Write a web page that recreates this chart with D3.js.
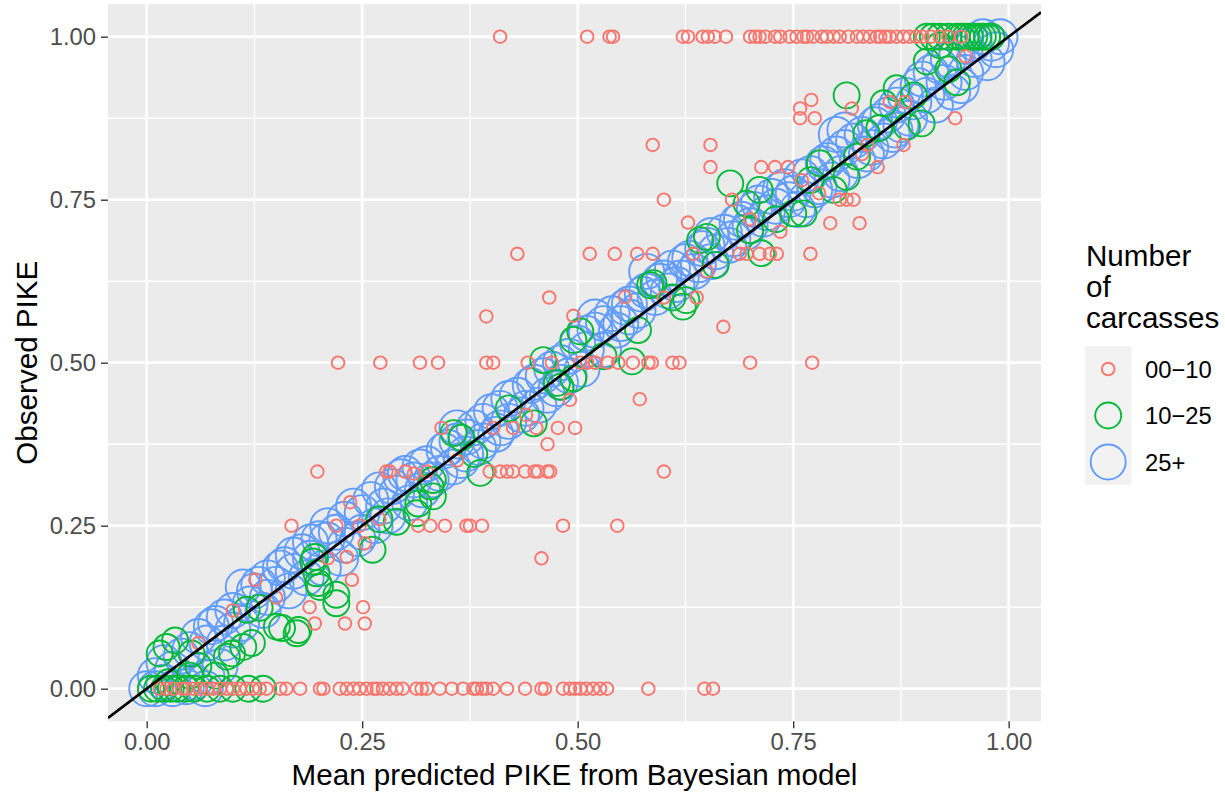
<!DOCTYPE html>
<html>
<head>
<meta charset="utf-8">
<script src="https://cdn.jsdelivr.net/npm/d3@7"></script>
<style>
  body { margin: 0; background: #fff; }
  svg text { font-family: "Liberation Sans", Arial, sans-serif; }
</style>
</head>
<body>
<div id="chart"></div>
<script>
// ---- data: [mean predicted, observed] per site-year, grouped by carcass count ----
var groupLabels = ["00\u221210", "10\u221225", "25+"];
var groupColors = ["#F8766D", "#00BA38", "#619CFF"];
var xTicks = [0, 0.25, 0.5, 0.75, 1];
var yTicks = [0, 0.25, 0.5, 0.75, 1];

var smallPts = [
  // observed = 1
  [0.41,1],[0.511,1],[0.537,1],[0.541,1],[0.622,1],[0.628,1],[0.645,1],[0.651,1],[0.659,1],[0.672,1],
  [0.700,1],[0.706,1],[0.711,1],[0.718,1],[0.729,1],[0.735,1],[0.746,1],[0.754,1],[0.762,1],[0.766,1],
  [0.773,1],[0.783,1],[0.789,1],[0.797,1],[0.804,1],[0.814,1],[0.824,1],[0.831,1],[0.839,1],[0.847,1],
  [0.851,1],[0.857,1],[0.862,1],[0.870,1],[0.878,1],[0.885,1],[0.893,1],[0.90,1],[0.91,1],[0.92,1],[0.93,1],[0.945,1],
  // observed = 0
  [0.015,0],[0.023,0],[0.031,0],[0.041,0],[0.046,0],[0.054,0],[0.062,0],[0.070,0],[0.077,0],[0.085,0],
  [0.093,0],[0.100,0],[0.108,0],[0.116,0],[0.123,0],[0.131,0],[0.139,0],[0.155,0],[0.162,0],[0.178,0],
  [0.201,0],[0.205,0],[0.224,0],[0.232,0],[0.240,0],[0.247,0],[0.255,0],[0.263,0],[0.267,0],[0.274,0],
  [0.282,0],[0.290,0],[0.297,0],[0.313,0],[0.319,0],[0.325,0],[0.340,0],[0.354,0],[0.367,0],[0.379,0],
  [0.383,0],[0.389,0],[0.394,0],[0.402,0],[0.418,0],[0.439,0],[0.458,0],[0.462,0],[0.483,0],[0.491,0],
  [0.497,0],[0.503,0],[0.510,0],[0.518,0],[0.526,0],[0.534,0],[0.582,0],[0.647,0],[0.657,0],
  // observed = 0.5
  [0.222,0.5],[0.271,0.5],[0.317,0.5],[0.338,0.5],[0.394,0.5],[0.402,0.5],[0.442,0.5],[0.470,0.5],[0.503,0.5],[0.511,0.5],
  [0.520,0.5],[0.535,0.5],[0.547,0.5],[0.564,0.5],[0.582,0.5],[0.586,0.5],[0.610,0.5],[0.618,0.5],[0.700,0.5],[0.772,0.5],
  // observed = 1/3
  [0.198,0.333],[0.278,0.333],[0.282,0.333],[0.300,0.333],[0.325,0.333],[0.398,0.333],[0.410,0.333],[0.418,0.333],
  [0.425,0.333],[0.439,0.333],[0.450,0.333],[0.454,0.333],[0.465,0.333],[0.468,0.333],[0.600,0.333],
  // observed = 0.25
  [0.168,0.25],[0.220,0.25],[0.247,0.25],[0.315,0.25],[0.329,0.25],[0.346,0.25],[0.371,0.25],[0.375,0.25],
  [0.389,0.25],[0.483,0.25],[0.546,0.25],
  // observed = 2/3
  [0.43,0.667],[0.514,0.667],[0.543,0.667],[0.569,0.667],[0.587,0.667],[0.634,0.667],[0.688,0.667],[0.696,0.667],
  [0.711,0.667],[0.723,0.667],[0.731,0.667],[0.770,0.667],
  // observed = 0.75, 0.8, 0.4
  [0.60,0.75],[0.679,0.75],[0.804,0.75],[0.812,0.75],[0.820,0.75],
  [0.654,0.8],[0.713,0.8],[0.729,0.8],[0.744,0.8],[0.848,0.8],
  [0.342,0.4],[0.402,0.4],[0.425,0.4],[0.452,0.4],[0.477,0.4],[0.497,0.4],
  // scattered
  [0.126,0.167],[0.238,0.167],[0.189,0.125],[0.251,0.125],[0.195,0.1],[0.23,0.1],[0.253,0.1],[0.236,0.286],
  [0.458,0.2],[0.465,0.375],[0.491,0.443],[0.572,0.444],[0.467,0.6],[0.394,0.571],[0.495,0.572],[0.669,0.555],
  [0.638,0.6],[0.555,0.601],[0.587,0.834],[0.654,0.834],[0.628,0.715],[0.735,0.701],[0.793,0.714],[0.827,0.714],
  [0.836,0.834],[0.76,0.78],[0.758,0.875],[0.775,0.875],[0.758,0.89],[0.771,0.903],[0.818,0.89],[0.862,0.9],
  [0.938,0.875],[0.878,0.834],[0.253,0.223],[0.232,0.202],
  [0.06,0.07],[0.1,0.12],[0.15,0.14],[0.21,0.2],[0.27,0.26],[0.31,0.33],[0.36,0.35],[0.44,0.42],
  [0.52,0.5],[0.6,0.6],[0.65,0.64],[0.7,0.72],[0.78,0.76],[0.83,0.82],[0.88,0.9],[0.95,0.97]
];

var midPts = [
  [0.005,0],[0.012,0],[0.02,0],[0.028,0],[0.035,0],[0.045,0],[0.055,0],[0.07,0],[0.085,0],[0.1,0],[0.118,0],[0.135,0],
  [0.015,0.054],[0.033,0.074],[0.025,0.01],[0.05,0.02],
  [0.023,0.064],[0.052,0.054],[0.093,0.049],[0.099,0.054],[0.112,0.064],[0.131,0.124],[0.151,0.095],[0.176,0.09],
  [0.197,0.177],[0.22,0.131],[0.201,0.156],
  [0.116,0.121],[0.122,0.07],[0.174,0.085],[0.157,0.093],[0.22,0.144],[0.199,0.162],[0.193,0.195],[0.262,0.213],
  [0.195,0.202],[0.29,0.256],[0.313,0.269],[0.315,0.284],[0.332,0.295],[0.329,0.31],[0.332,0.32],[0.356,0.392],
  [0.365,0.385],[0.387,0.331],[0.449,0.407],[0.46,0.504],[0.476,0.469],[0.48,0.463],[0.495,0.476],[0.495,0.535],
  [0.503,0.548],[0.563,0.502],[0.584,0.619],[0.588,0.622],[0.622,0.586],[0.626,0.596],[0.642,0.688],[0.65,0.693],
  [0.677,0.775],[0.696,0.744],[0.70,0.703],[0.711,0.765],[0.713,0.668],[0.75,0.729],[0.762,0.729],[0.781,0.806],
  [0.797,0.765],[0.812,0.785],[0.812,0.91],[0.824,0.816],[0.835,0.852],[0.855,0.898],[0.882,0.862],[0.899,0.867],
  [0.87,0.921],[0.905,0.962],[0.92,0.987],
  [0.27,0.26],[0.38,0.36],[0.42,0.43],[0.53,0.51],[0.57,0.55],[0.61,0.6],[0.66,0.65],[0.73,0.72],
  [0.77,0.78],[0.85,0.86],[0.89,0.91],[0.93,0.95],[0.94,0.93],[0.06,0.035],[0.08,0.02],
  [0.905,1],[0.912,1],[0.92,1],[0.93,1],[0.94,1],[0.945,1],[0.95,1],[0.955,1],[0.96,1],[0.965,1],[0.97,1],[0.975,1],[0.98,1]
];

var largePts = [
  [0.00,0.00],[0.01,0.00],[0.01,0.02],[0.02,0.01],[0.02,0.04],[0.03,0.00],[0.03,0.03],[0.04,0.05],[0.046,0.003],
  [0.05,0.06],[0.055,0.01],[0.06,0.08],[0.07,0.018],[0.07,0.07],[0.075,0.095],[0.068,0.0],[0.08,0.10],[0.085,0.034],
  [0.09,0.11],[0.09,0.07],[0.10,0.12],[0.10,0.09],[0.112,0.156],[0.11,0.10],[0.12,0.13],[0.125,0.15],[0.13,0.16],
  [0.135,0.12],[0.14,0.17],[0.14,0.14],[0.15,0.16],[0.155,0.185],[0.16,0.19],[0.165,0.15],[0.17,0.18],[0.17,0.205],
  [0.18,0.21],[0.185,0.17],[0.19,0.20],[0.19,0.225],[0.20,0.23],[0.205,0.185],[0.209,0.228],[0.21,0.25],[0.22,0.24],
  [0.225,0.20],[0.23,0.26],[0.23,0.22],[0.24,0.28],[0.245,0.23],[0.25,0.27],[0.25,0.24],[0.26,0.29],[0.265,0.25],
  [0.27,0.305],[0.275,0.28],[0.28,0.265],[0.285,0.31],[0.29,0.30],[0.295,0.325],[0.30,0.33],[0.305,0.285],[0.31,0.32],
  [0.317,0.34],[0.32,0.305],[0.325,0.345],[0.33,0.32],[0.34,0.33],[0.345,0.365],[0.35,0.37],[0.355,0.34],[0.36,0.4],
  [0.36,0.38],[0.365,0.35],[0.371,0.386],[0.37,0.36],[0.38,0.40],[0.385,0.37],[0.39,0.41],[0.39,0.38],[0.40,0.425],
  [0.405,0.39],[0.41,0.40],[0.41,0.43],[0.42,0.445],[0.42,0.41],[0.43,0.45],[0.435,0.42],[0.44,0.43],[0.445,0.465],
  [0.45,0.47],[0.455,0.435],[0.46,0.48],[0.465,0.45],[0.47,0.49],[0.475,0.46],[0.48,0.47],[0.48,0.50],[0.49,0.51],
  [0.49,0.48],[0.50,0.53],[0.505,0.49],[0.51,0.545],[0.51,0.52],[0.52,0.57],[0.52,0.55],[0.53,0.56],[0.53,0.52],
  [0.54,0.575],[0.545,0.55],[0.55,0.56],[0.555,0.585],[0.56,0.59],[0.56,0.57],[0.57,0.58],[0.575,0.605],[0.58,0.64],
  [0.58,0.61],[0.59,0.60],[0.595,0.625],[0.60,0.63],[0.605,0.61],[0.61,0.645],[0.615,0.62],[0.62,0.63],[0.625,0.655],
  [0.63,0.66],[0.635,0.64],[0.64,0.65],[0.645,0.675],[0.65,0.68],[0.655,0.655],[0.66,0.67],[0.655,0.695],[0.67,0.70],
  [0.675,0.68],[0.68,0.69],[0.685,0.715],[0.69,0.72],[0.695,0.70],[0.70,0.71],[0.705,0.735],[0.71,0.745],[0.715,0.72],
  [0.72,0.73],[0.725,0.755],[0.73,0.74],[0.735,0.765],[0.74,0.77],[0.745,0.75],[0.75,0.76],[0.755,0.735],[0.76,0.785],
  [0.765,0.75],[0.77,0.79],[0.775,0.765],[0.78,0.77],[0.785,0.805],[0.79,0.81],[0.795,0.78],[0.80,0.82],[0.80,0.85],
  [0.805,0.79],[0.81,0.83],[0.82,0.84],[0.825,0.81],[0.83,0.85],[0.835,0.82],[0.84,0.83],[0.845,0.865],[0.85,0.87],
  [0.855,0.84],[0.86,0.88],[0.865,0.85],[0.87,0.895],[0.875,0.865],[0.88,0.91],[0.885,0.875],[0.89,0.90],[0.895,0.925],
  [0.90,0.935],[0.905,0.91],[0.91,0.945],[0.915,0.895],[0.92,0.955],[0.925,0.93],[0.93,0.965],[0.935,0.915],[0.94,0.975],
  [0.945,0.925],[0.95,0.985],[0.95,0.945],[0.96,0.99],[0.96,0.965],[0.97,1.00],[0.975,0.96],[0.98,0.99],[0.985,0.98],
  [0.99,1.00],[0.81,0.857],[0.868,0.857]
];

window.onload = function () {

    var width = 1225,
        height = 794,
        panel = {left: 108, right: 1041, top: 4.1, bottom: 721.3},
        radii = [6.3, 13, 17.5];

    var svg = d3.select("#chart")
                .append("svg")
                .attr("width", width)
                .attr("height", height);

    // scales (ggplot adds 5% expansion to the data range)
    var xScale = d3.scaleLinear()
                    .domain([-0.0449, 1.0375])
                    .range([panel.left, panel.right]);

    var yScale = d3.scaleLinear()
                    .domain([-0.05, 1.05])
                    .range([panel.bottom, panel.top]);

    // panel background + grid
    svg.append("rect")
        .attr("x", panel.left)
        .attr("y", panel.top)
        .attr("width", panel.right - panel.left)
        .attr("height", panel.bottom - panel.top)
        .attr("fill", "#EBEBEB");

    var minor = [0.125, 0.375, 0.625, 0.875];

    var hLines = function(vals, w){
        svg.append("g").selectAll("line")
            .data(vals)
            .enter()
            .append("line")
                .attr("x1", panel.left).attr("x2", panel.right)
                .attr("y1", function(d){return yScale(d)})
                .attr("y2", function(d){return yScale(d)})
                .attr("stroke", "#fff").attr("stroke-width", w);
    };
    var vLines = function(vals, w){
        svg.append("g").selectAll("line")
            .data(vals)
            .enter()
            .append("line")
                .attr("y1", panel.top).attr("y2", panel.bottom)
                .attr("x1", function(d){return xScale(d)})
                .attr("x2", function(d){return xScale(d)})
                .attr("stroke", "#fff").attr("stroke-width", w);
    };
    hLines(minor, 1.35);
    vLines(minor, 1.35);
    hLines(yTicks, 2.7);
    vLines(xTicks, 2.7);

    // clip for points and the 1:1 line
    svg.append("clipPath")
        .attr("id", "panelClip")
        .append("rect")
            .attr("x", panel.left)
            .attr("y", panel.top)
            .attr("width", panel.right - panel.left)
            .attr("height", panel.bottom - panel.top);

    var plot = svg.append("g").attr("clip-path", "url(#panelClip)");

    var addPoints = function(pts, i){
        plot.append("g")
            .selectAll("circle")
            .data(pts)
            .enter()
            .append("circle")
                .attr("cx", function(d){return xScale(d[0])})
                .attr("cy", function(d){return yScale(d[1])})
                .attr("r", radii[i])
                .attr("fill", "none")
                .attr("stroke", groupColors[i])
                .attr("stroke-width", 1.9);
    };

    addPoints(largePts, 2);
    addPoints(midPts, 1);
    addPoints(smallPts, 0);

    // y = x reference line
    var dom = xScale.domain();
    plot.append("line")
        .attr("x1", xScale(dom[0])).attr("y1", yScale(dom[0]))
        .attr("x2", xScale(dom[1])).attr("y2", yScale(dom[1]))
        .attr("stroke", "#000")
        .attr("stroke-width", 2.7);

    // axes
    var fmt = d3.format(".2f");

    var xAxis = d3.axisBottom(xScale)
                    .tickValues(xTicks)
                    .tickFormat(fmt)
                    .tickSize(7)
                    .tickPadding(5);

    var yAxis = d3.axisLeft(yScale)
                    .tickValues(yTicks)
                    .tickFormat(fmt)
                    .tickSize(7)
                    .tickPadding(5);

    var gx = svg.append("g")
        .attr("transform", "translate(0," + panel.bottom + ")")
        .call(xAxis);

    var gy = svg.append("g")
        .attr("transform", "translate(" + panel.left + ",0)")
        .call(yAxis);

    [gx, gy].forEach(function(g){
        g.select(".domain").remove();
        g.selectAll(".tick line").attr("stroke", "#333333").attr("stroke-width", 1.35);
        g.selectAll(".tick text")
            .attr("fill", "#4D4D4D")
            .style("font-size", "23.8px")
            .style("font-family", "'Liberation Sans', Arial, sans-serif");
    });

    // axis titles
    svg.append("text")
        .attr("x", (panel.left + panel.right) / 2)
        .attr("y", 785)
        .attr("text-anchor", "middle")
        .style("font-size", "29.6px")
        .text("Mean predicted PIKE from Bayesian model");

    svg.append("text")
        .attr("transform", "translate(37," + ((panel.top + panel.bottom) / 2) + ") rotate(-90)")
        .attr("text-anchor", "middle")
        .style("font-size", "29.6px")
        .text("Observed PIKE");

    // legend
    var legend = svg.append("g").attr("transform", "translate(1085,0)");

    ["Number", "of", "carcasses"].forEach(function(t, i){
        legend.append("text")
            .attr("x", 1)
            .attr("y", 266 + i * 31)
            .style("font-size", "29.6px")
            .text(t);
    });

    legend.append("rect")
        .attr("x", 0).attr("y", 346)
        .attr("width", 46.5).attr("height", 139)
        .attr("fill", "#F2F2F2");

    groupLabels.forEach(function(lab, i){
        var cy = 369 + i * 46.5;
        legend.append("circle")
            .attr("cx", 23.2).attr("cy", cy)
            .attr("r", radii[i])
            .attr("fill", "none")
            .attr("stroke", groupColors[i])
            .attr("stroke-width", 1.9);
        legend.append("text")
            .attr("x", 60)
            .attr("y", cy + 8.5)
            .style("font-size", "23.8px")
            .text(lab);
    });
};
</script>
</body>
</html>
